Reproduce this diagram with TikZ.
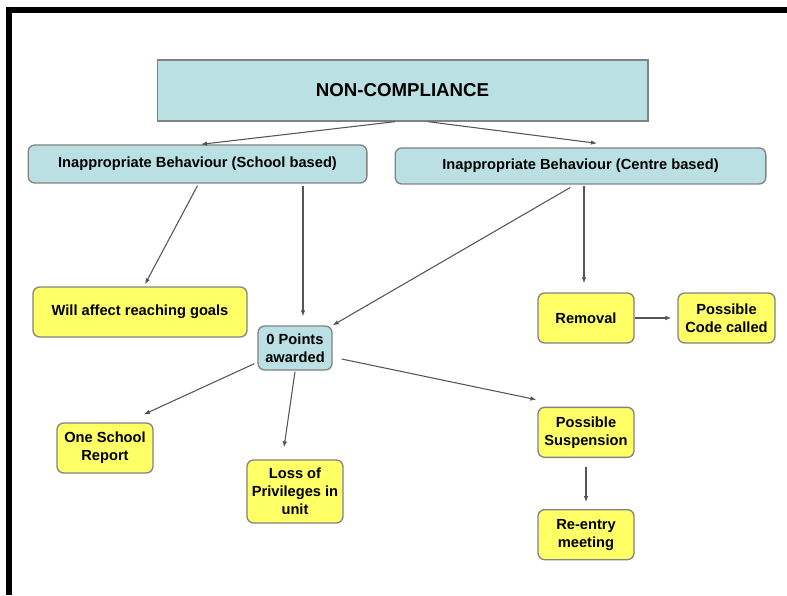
\documentclass[tikz,border=0pt]{standalone}
\usepackage{fontspec}
\setmainfont{Liberation Sans}
\usetikzlibrary{arrows.meta,positioning,calc}

\definecolor{nctealfill}{RGB}{186,224,227}
\definecolor{ncyellowfill}{RGB}{255,255,102}
\definecolor{ncedge}{RGB}{130,130,130}
\definecolor{ncline}{RGB}{85,85,85}

\begin{document}
\begin{tikzpicture}[x=0.75pt,y=-0.75pt,
    ncbox/.style={draw=ncedge,fill=ncyellowfill,rounded corners=5pt,
        line width=1pt,align=center,font=\fontsize{11}{13.5}\selectfont\bfseries,
        inner sep=0pt,minimum width=72pt,minimum height=37.5pt},
    ncteal/.style={ncbox,fill=nctealfill},
    ncarrow/.style={-{Latex[length=4.5pt,width=3.5pt]},draw=ncline,line width=0.8pt}
]
\useasboundingbox (0,0) rectangle (787,595);
\draw[line width=4.5pt,line join=miter] (787,10) -- (9,10) -- (9,595);
\node[ncteal,rounded corners=0pt,minimum width=368pt,minimum height=45.75pt,
    font=\fontsize{14}{16}\selectfont\bfseries] (noncomp) at (402.5,90.5) {NON-COMPLIANCE};
\node[ncteal,minimum width=254pt,minimum height=28.5pt] (school) at (197.5,164)
    {Inappropriate Behaviour (School based)};
\node[ncteal,minimum width=278pt,minimum height=27pt] (centre) at (580.5,166)
    {Inappropriate Behaviour (Centre based)};
\node[ncbox,minimum width=160.5pt] (goals) at (140,312) {Will affect reaching goals};
\node[ncteal,minimum width=55.5pt,minimum height=33pt] (points) at (295,348) {0 Points\\awarded};
\node[ncbox] (report) at (105,448) {One School\\Report};
\node[ncbox,minimum height=47.25pt] (loss) at (295,491.5) {Loss of\\Privileges in\\unit};
\node[ncbox] (removal) at (586,318) {Removal};
\node[ncbox,minimum width=72.75pt,right=32pt of removal] (code) {Possible\\Code called};
\node[ncbox,below=47.25pt of removal] (suspension) {Possible\\Suspension};
\node[ncbox,below=38.25pt of suspension] (reentry) {Re-entry\\meeting};
\draw[ncarrow] ($(noncomp.south)+(-7.5,0)$) -- ($(school.north)+(3.5,0)$);
\draw[ncarrow] ($(noncomp.south)+(25.5,0)$) -- ($(centre.north)+(16.5,-4)$);
\draw[ncarrow] ($(school.south)+(0,2)$) -- ($(goals.north)+(5,-2)$);
\draw[ncarrow] ($(points.north |- school.south)+(8,2)$) -- ($(points.north)+(8,-9)$);
\draw[ncarrow] ($(centre.south)+(-10.5,3)$) -- (points.north east);
\draw[ncarrow] ($(removal.north |- centre.south)+(-2,1)$) -- ($(removal.north)+(-2,-9)$);
\draw[ncarrow] (removal.east) -- ($(code.west)+(-6,0)$);
\draw[ncarrow] ($(points.south west)+(-3,-7)$) -- ($(report.north)+(39,-8)$);
\draw[ncarrow] ($(points.south)+(0,1)$) -- ($(loss.north)+(-11,-12)$);
\draw[ncarrow] ($(points.east)+(9,11)$) -- ($(suspension.north west)+(-1,-7)$);
\draw[ncarrow] ($(suspension.south)+(0,9)$) -- ($(reentry.north)+(0,-7)$);
\end{tikzpicture}
\end{document}
